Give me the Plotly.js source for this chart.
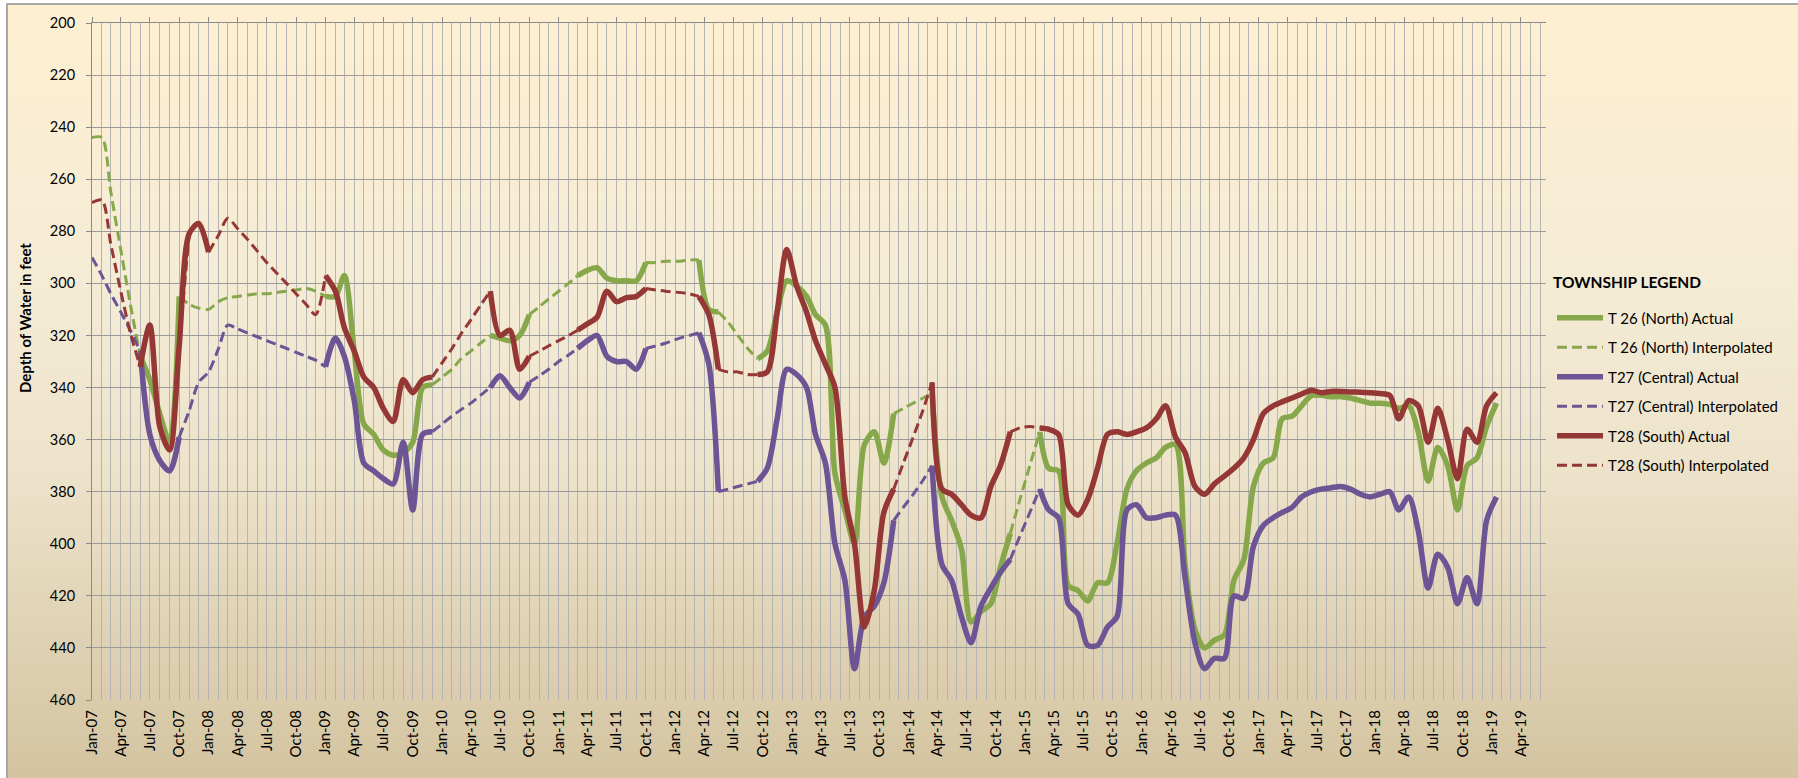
<!DOCTYPE html>
<html><head><meta charset="utf-8">
<script src="https://cdn.plot.ly/plotly-3.0.1.min.js"></script>
<style>
html,body{margin:0;padding:0;background:#fff;width:1798px;height:778px;overflow:hidden;}
#frame{position:absolute;left:6px;top:3px;width:1794px;height:778px;box-sizing:border-box;border:2px solid #a8a8a8;border-right:none;border-bottom:none;background:linear-gradient(to bottom,#FEEFD1 0%,#F5ECD6 35%,#EDE3CB 60%,#D3C3A0 100%);}
#chart{position:absolute;left:0;top:0;width:1798px;height:778px;}
</style></head><body>
<div id="frame"></div><div id="chart"></div>
<script>
const _ = null;
const dates = [
"2007-01-01","2007-02-01","2007-03-01","2007-04-01","2007-05-01","2007-06-01","2007-07-01","2007-08-01","2007-09-01","2007-10-01","2007-11-01","2007-12-01",
"2008-01-01","2008-02-01","2008-03-01","2008-04-01","2008-05-01","2008-06-01","2008-07-01","2008-08-01","2008-09-01","2008-10-01","2008-11-01","2008-12-01",
"2009-01-01","2009-02-01","2009-03-01","2009-04-01","2009-05-01","2009-06-01","2009-07-01","2009-08-01","2009-09-01","2009-10-01","2009-11-01","2009-12-01",
"2010-01-01","2010-02-01","2010-03-01","2010-04-01","2010-05-01","2010-06-01","2010-07-01","2010-08-01","2010-09-01","2010-10-01","2010-11-01","2010-12-01",
"2011-01-01","2011-02-01","2011-03-01","2011-04-01","2011-05-01","2011-06-01","2011-07-01","2011-08-01","2011-09-01","2011-10-01","2011-11-01","2011-12-01",
"2012-01-15","2012-02-15","2012-03-15","2012-04-15","2012-05-15","2012-06-15","2012-07-15","2012-08-15","2012-09-15","2012-10-15","2012-11-15","2012-12-15",
"2013-01-15","2013-02-15","2013-03-15","2013-04-15","2013-05-15","2013-06-15","2013-07-15","2013-08-15","2013-09-15","2013-10-15","2013-11-15","2013-12-15",
"2014-01-15","2014-02-15","2014-03-15","2014-04-15","2014-05-15","2014-06-15","2014-07-15","2014-08-15","2014-09-15","2014-10-15","2014-11-15","2014-12-15",
"2015-01-15","2015-02-15","2015-03-15","2015-04-15","2015-05-15","2015-06-15","2015-07-15","2015-08-15","2015-09-15","2015-10-15","2015-11-15","2015-12-15",
"2016-01-15","2016-02-15","2016-03-15","2016-04-15","2016-05-15","2016-06-15","2016-07-15","2016-08-15","2016-09-15","2016-10-15","2016-11-15","2016-12-15",
"2017-01-15","2017-02-15","2017-03-15","2017-04-15","2017-05-15","2017-06-15","2017-07-15","2017-08-15","2017-09-15","2017-10-15","2017-11-15","2017-12-15",
"2018-01-15","2018-02-15","2018-03-15","2018-04-15","2018-05-15","2018-06-15","2018-07-15","2018-08-15","2018-09-15","2018-10-15","2018-11-15","2018-12-15",
"2019-01-15"];

const t26Actual = [
_,_,_,_,_,328,337,350,361,305,_,_,
_,_,_,_,_,_,_,_,_,_,_,_,
305,305,297,326,354,358,364,366,365,361,340,339,
_,_,_,_,_,320,321,322,320,312,_,_,
_,_,297,295,294,298,299,299,299,292,_,_,
_,_,291,310,311,_,_,_,329,326,311,299,
301,305,312,316,373,387,400,362,357,369,350,_,
_,_,342,382,391,402,430,426,423,409,396,_,
_,357,371,372,416,418,422,415,415,400,379,372,
369,367,363,362,408,433,440,437,435,414,406,378,
369,367,352,351,347,343,343,343.5,343.5,344,345,346,
346,346.5,348,347,357,376,363,370,387,370,367,355,
346];
const t26Interp = [
244,244,265,287,308,328,_,_,_,305,308,309.5,
310,307,305.5,305,304.5,304,304,303.5,303,302.5,302,303,
305,_,_,_,_,_,_,_,_,_,_,339,
336,333,329,326,323,320,_,_,_,312,309,306,
303,300,297,_,_,_,_,_,_,292,292,291.5,
291.5,291,291,_,311,315,320,325,329,_,_,_,
_,_,_,_,_,_,_,_,_,_,350,348,
346,344,342,_,_,_,_,_,_,_,396,383,
370,357,_,_,_,_,_,_,_,_,_,_,
_,_,_,_,_,_,_,_,_,_,_,_,
_,_,_,_,_,_,_,_,_,_,_,_,
_,_,_,_,_,_,_,_,_,_,_,_,
_];
const t27Actual = [
_,_,_,_,_,326,358,368,372,359,_,_,
_,_,_,_,_,_,_,_,_,_,_,_,
332,321,328,345,369,372,375,377,361,387,358,357,
_,_,_,_,_,340,335.5,340,344,338,_,_,
_,_,325,322,320,328,330,330,333,325,_,_,
_,_,319,331,380,_,_,_,376,371,352,333,
335,340,358,369,400,414,448,428,424,415,391,_,
_,_,370,408,414,428,438,424,417,411,406,_,
_,379,387,390,423,427,439,439,432,428,387,385,
390,390,389,389,413,438,448,444,444,420,421,401,
393,390,388,386,382,380,379,378.5,378,379,381,382,
381,380,387,382,395,417,404,409,423,413,423,391,
382];
const t27Interp = [
290,297,304,311,318,326,_,_,_,359,349,338,
334,325,316,317.5,319,320.5,322,323.5,325,326.5,328,329.5,
332,_,_,_,_,_,_,_,_,_,_,357,
354,351,348.5,346,343,340,_,_,_,338,335.5,333,
330,327.5,325,_,_,_,_,_,_,325,324,323,
321,320,319,_,380,379,378,377,376,_,_,_,
_,_,_,_,_,_,_,_,_,_,391,386,
381,375.5,370,_,_,_,_,_,_,_,406,397,
388,379,_,_,_,_,_,_,_,_,_,_,
_,_,_,_,_,_,_,_,_,_,_,_,
_,_,_,_,_,_,_,_,_,_,_,_,
_,_,_,_,_,_,_,_,_,_,_,_,
_];
const t28Actual = [
_,_,_,_,_,332,316,355,364,324,281,277,
288,_,_,_,_,_,_,_,_,_,_,_,
297,303,317,326,336,340,348,353,337,342,337,336,
_,_,_,_,_,303,320,318,333,328,_,_,
_,_,318,315.5,313,303,307,305.5,305,302,_,_,
_,_,305,312,333,_,_,_,335,334,311,287,
301,311,322,331,340,382,400,432,418,388,379,_,
_,_,338,379,381,385,389,390,378,370,357,_,
_,355.5,356,358,385,389,383,371,358,357,358,357,
355.5,352,347,359,365,378,381,377,374,371,367,360,
350,347,345.5,344,342.5,341,342,341.5,341.5,341.7,341.8,342,
342.3,343,352,345,347,361,348,360,375,356,361,347,
342];
const t28Interp = [
269,268,285,303,319,332,_,_,_,324,281,_,
288,281.5,275,279,283,287.5,292,296,300,304,308,312,
297,_,_,_,_,_,_,_,_,_,_,336,
330.5,325,319.5,314,308.5,303,_,_,_,328,326,324,
322,320,318,_,_,_,_,_,_,302,302.5,303,
303.5,304,305,_,333,334,334,335,335,_,_,_,
_,_,_,_,_,_,_,_,_,_,379,369,
359,348.5,338,_,_,_,_,_,_,_,357,355.5,
355,355.5,_,_,_,_,_,_,_,_,_,_,
_,_,_,_,_,_,_,_,_,_,_,_,
_,_,_,_,_,_,_,_,_,_,_,_,
_,_,_,_,_,_,_,_,_,_,_,_,
_];

const seriesNames = ["T 26 (North) Actual","T 26 (North) Interpolated","T27 (Central) Actual","T27 (Central) Interpolated","T28 (South) Actual","T28 (South) Interpolated"];
const seriesColors = ["#86A84A","#86A84A","#6C5495","#6C5495","#953735","#953735"];
const seriesData = [t26Actual,t26Interp,t27Actual,t27Interp,t28Actual,t28Interp];
const xRange = ["2007-01-01","2019-06-19"];
const FONT = "Lato, 'Open Sans', sans-serif";

const traces = seriesData.map((yv,i)=>{
  const dashed = i%2===1;
  return {x:dates,y:yv,name:seriesNames[i],type:'scatter',mode:'lines',
    line:{color:seriesColors[i],width:dashed?3:5.5,dash:dashed?'10px,5px':'solid',shape:'spline',smoothing:0.8},
    connectgaps:false,legendgroup:'g'+i,hoverinfo:'skip'};
});
traces.push({x:dates,y:t28Actual,xaxis:'x2',mode:'none',showlegend:false,hoverinfo:'skip'});

const layout = {
  width:1798,height:778,
  paper_bgcolor:'rgba(0,0,0,0)',plot_bgcolor:'rgba(0,0,0,0)',
  margin:{l:92,r:252,t:23,b:78,pad:0},
  font:{family:FONT,color:'#000'},
  showlegend:true,
  legend:{xref:'container',yref:'container',x:0.8632,y:0.6125,xanchor:'left',yanchor:'top',
    bgcolor:'rgba(0,0,0,0)',font:{family:FONT,size:15,color:'#000'},
    tracegroupgap:7,itemwidth:46},
  xaxis:{type:'date',range:xRange,tickmode:'linear',tick0:'2007-01-01',dtick:'M3',tickformat:'%b-%y',
    tickangle:-90,ticks:'',showgrid:true,gridcolor:'#b4b4b4',gridwidth:1,
    minor:{dtick:'M1',tick0:'2007-01-01',showgrid:true,gridcolor:'#b4b4b4',gridwidth:1},
    showline:false,zeroline:false,tickfont:{family:FONT,size:15,color:'#000'},ticklabelstandoff:6},
  xaxis2:{type:'date',range:xRange,overlaying:'x',side:'top',tickmode:'linear',tick0:'2007-01-01',dtick:'M3',
    ticks:'outside',ticklen:5,tickcolor:'#8a8a8a',showticklabels:false,showgrid:false,showline:true,linecolor:'#8a8a8a',zeroline:false},
  yaxis:{range:[460,200],tickmode:'linear',tick0:200,dtick:20,showgrid:true,gridcolor:'#9a9a9a',gridwidth:1,
    ticks:'outside',ticklen:5,tickcolor:'#8a8a8a',showline:true,linecolor:'#8a8a8a',zeroline:false,
    tickfont:{family:FONT,size:14.5,color:'#000'},ticklabelstandoff:8},
  annotations:[
    {xref:'paper',yref:'paper',x:(25-92)/1454,y:(700-318)/677,text:'<b>Depth of Water in feet</b>',
     textangle:-90,showarrow:false,font:{family:FONT,size:15,color:'#000'},xanchor:'center',yanchor:'middle'},
    {xref:'paper',yref:'paper',x:(1551-92)/1454,y:(700-282)/677,text:'<b>TOWNSHIP LEGEND</b>',
     showarrow:false,font:{family:FONT,size:15.5,color:'#000'},xanchor:'left',yanchor:'middle'}
  ]
};
Plotly.newPlot('chart',traces,layout,{displayModeBar:false,staticPlot:true});
</script>
</body></html>
